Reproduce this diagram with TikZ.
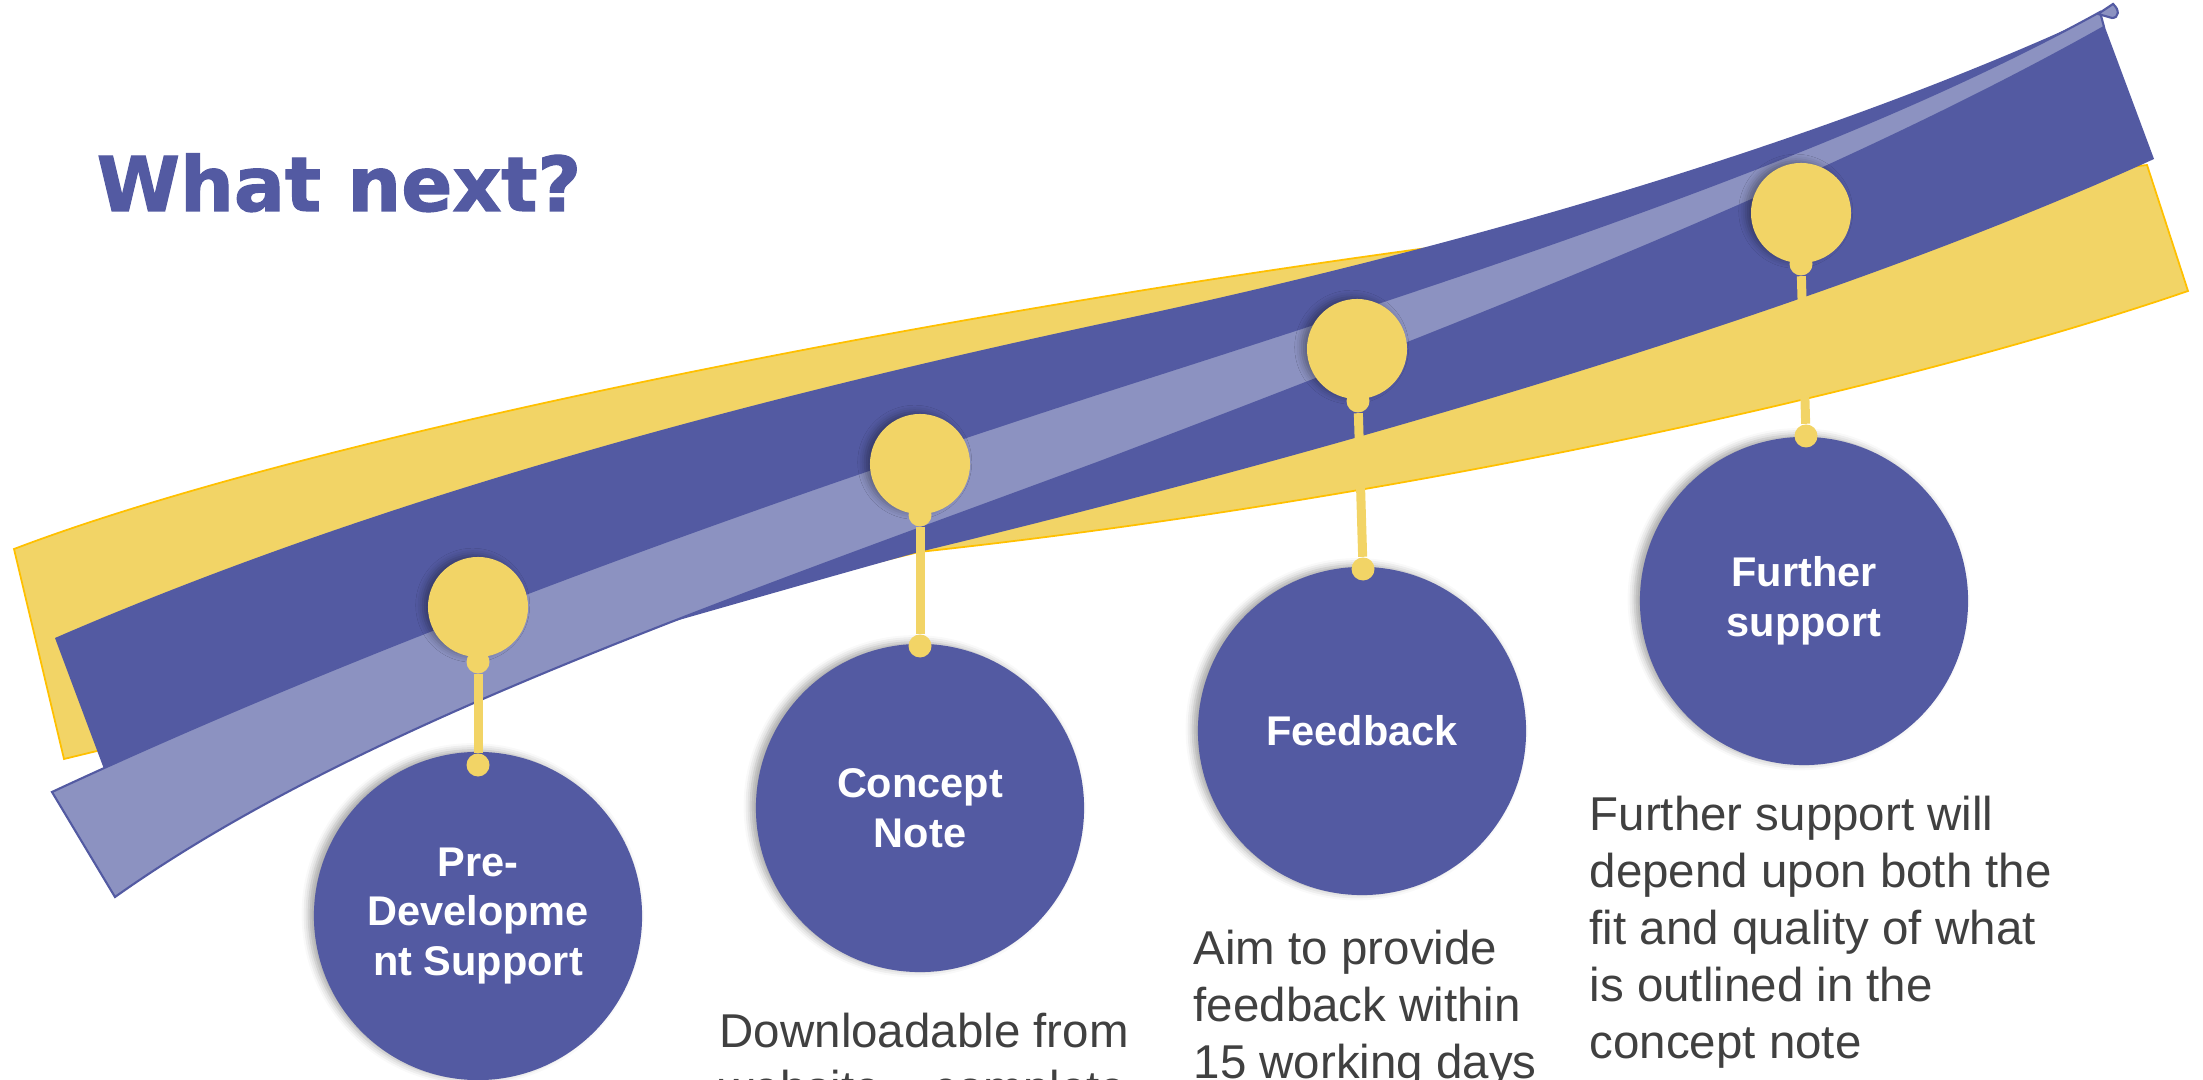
\documentclass[tikz,border=0pt]{standalone}
\usepackage{fontspec}
\setmainfont{Liberation Sans}
\newfontfamily\titlefont[BoldFeatures={FakeBold=1.5}]{DejaVu Sans}
\usetikzlibrary{shadows.blur}
\definecolor{bandblue}{HTML}{535AA2}
\definecolor{bandlight}{HTML}{8C92C1}
\definecolor{bandyellow}{HTML}{F2D466}
\definecolor{bandgold}{HTML}{FFC000}
\definecolor{notegrey}{HTML}{404040}
\tikzstyle{stage} = [circle, minimum size=3.28cm, inner sep=0pt, fill=bandblue, text=white, align=center, font=\fontsize{11.8}{14.2}\selectfont\bfseries, blur shadow={shadow xshift=-1.5pt, shadow yshift=0.5pt, shadow blur radius=2pt, shadow opacity=35}]
\tikzstyle{pin} = [circle, minimum size=1cm, inner sep=0pt, fill=bandyellow, blur shadow={shadow xshift=-1.5pt, shadow yshift=0.5pt, shadow blur radius=2pt, shadow opacity=35}]
\tikzstyle{knob} = [circle, minimum size=0.23cm, inner sep=0pt, fill=bandyellow]
\tikzstyle{stem} = [bandyellow, line width=0.09cm]
\tikzstyle{note} = [anchor=base west, align=left, inner sep=0pt, text=notegrey, font=\fontsize{13.5}{16.2}\selectfont]

\begin{document}
\begin{tikzpicture}[x=0.01cm, y=-0.01cm]
    \useasboundingbox (0,0) rectangle (2203,1080);
    \clip (0,0) rectangle (2203,1080);

    % ribbons
    \filldraw[fill=bandyellow, draw=bandgold, line width=0.5pt]
        (14,549) .. controls (300,440) and (900,320) .. (1420,249) -- (2147,165)
        -- (2188,291) .. controls (1900,390) and (1400,500) .. (919,552)
        -- (64,759) -- cycle;
    \fill[bandblue]
        (55,638) .. controls (350,510) and (700,410) .. (1100,324)
        .. controls (1500,240) and (1850,130) .. (2100,14)
        -- (2154,159) .. controls (1800,320) and (1300,460) .. (919,552)
        .. controls (800,585) and (680,620) .. (580,648)
        -- (110,785) -- cycle;
    \filldraw[fill=bandlight, draw=bandblue, line width=0.6pt]
        (52,792) .. controls (400,630) and (800,490) .. (1100,393)
        .. controls (1500,265) and (1850,150) .. (2100,12)
        -- (2104,27) .. controls (1850,170) and (1500,310) .. (1100,462)
        .. controls (700,610) and (350,730) .. (115,897) -- cycle;
    \filldraw[fill=bandlight, draw=bandblue, line width=0.6pt]
        (2098,14) -- (2113,4) .. controls (2120,10) and (2119,18) .. (2112,18) -- cycle;

    \node[anchor=base west, inner sep=0pt, text=bandblue, font=\titlefont\fontsize{21.5}{26}\selectfont\bfseries] (title) at (96,211) {What next?};

    \node (p1) [pin] at (478,607) {};
    \node (p2) [pin] at (920,464) {};
    \node (p3) [pin] at (1357,349) {};
    \node (p4) [pin] at (1801,213) {};

    \node (1) [stage] at (478,916) {Pre-\\Developme\\nt Support};
    \node (2) [stage] at (920,808) {Concept\\Note};
    \node (3) [stage] at (1362,731) {Feedback};
    \node (4) [stage] at (1804,601) {Further\\support};

    \node (t1) [knob] at (478,662) {};
    \node (b1) [knob] at (478,765) {};
    \node (t2) [knob] at (920,515) {};
    \node (b2) [knob] at (920,646) {};
    \node (t3) [knob] at (1358,401) {};
    \node (b3) [knob] at (1363,569) {};
    \node (t4) [knob] at (1801,264) {};
    \node (b4) [knob] at (1806,436) {};

    \draw[stem] (t1) -- (b1);
    \draw[stem] (t2) -- (b2);
    \draw[stem] (t3) -- (b3);
    \draw[stem] (t4) -- (b4);

    % base = last line
    \node (n2) [note] at (719,1104) {Downloadable from\\website – complete};
    \node (n3) [note] at (1193,1078) {Aim to provide\\feedback within\\15 working days};
    \node (n4) [note] at (1589,1058) {Further support will\\depend upon both the\\fit and quality of what\\is outlined in the\\concept note};
\end{tikzpicture}
\end{document}
